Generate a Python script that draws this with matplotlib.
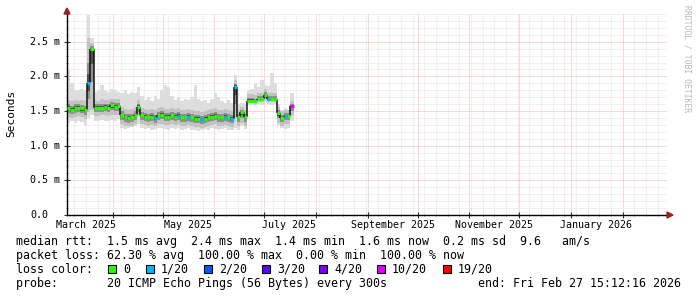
import numpy as np
import pandas as pd
import matplotlib
matplotlib.use('Agg')
import matplotlib.pyplot as plt
import matplotlib.dates as mdates
from matplotlib.ticker import MultipleLocator
from matplotlib.collections import LineCollection
from matplotlib.patches import Rectangle, Polygon
from matplotlib.transforms import blended_transform_factory

W, H = 697, 297
MONO = 'DejaVu Sans Mono'

# graph window: last 360 days
end_time = pd.Timestamp('2026-02-27 15:12:16')
start_time = end_time - pd.Timedelta(days=360)

# one consolidated value every 2 days from the start of the window (ms)
median_ms = [1.55, 1.52, 1.55, 1.55, 1.54, 1.51, 1.90, 2.40,
             1.55, 1.55, 1.55, 1.56, 1.55, 1.58, 1.56, 1.57,
             1.44, 1.41, 1.40, 1.41, 1.44, 1.56, 1.44, 1.42,
             1.41, 1.42, 1.40, 1.44, 1.45, 1.42, 1.42, 1.44,
             1.42, 1.43, 1.41, 1.41, 1.42, 1.41, 1.39, 1.39,
             1.38, 1.39, 1.41, 1.42, 1.43, 1.41, 1.41, 1.42,
             1.41, 1.39, 1.85, 1.41, 1.48, 1.41, 1.65, 1.65,
             1.64, 1.67, 1.67, 1.73, 1.67, 1.67, 1.67, 1.47,
             1.40, 1.43, 1.43, 1.57]
# index into loss_colors for every step
loss_step = [0, 0, 0, 0, 0, 0, 1, 0,
             0, 0, 0, 0, 0, 0, 0, 0,
             0, 0, 0, 0, 0, 0, 0, 0,
             0, 0, 1, 0, 0, 0, 0, 0,
             0, 1, 0, 0, 1, 0, 0, 0,
             1, 0, 0, 0, 0, 0, 0, 1,
             0, 1, 1, 0, 0, 0, 0, 0,
             0, 0, 0, 0, 1, 0, 0, 0,
             0, 1, 0, 5]
# smoke: spread of the 20 pings
rtt_max = [2.09, 1.90, 1.80, 1.80, 1.82, 1.80, 2.89, 2.55,
           1.78, 1.80, 1.88, 1.80, 1.78, 1.82, 1.80, 1.78,
           1.76, 1.80, 1.74, 1.78, 1.76, 1.85, 1.72, 1.66,
           1.70, 1.64, 1.72, 1.68, 1.80, 1.88, 1.84, 1.72,
           1.66, 1.70, 1.64, 1.68, 1.66, 1.70, 1.88, 1.68,
           1.64, 1.66, 1.62, 1.68, 1.76, 1.70, 1.64, 1.62,
           1.66, 1.62, 2.02, 1.60, 1.62, 1.60, 1.80, 1.82,
           1.90, 1.84, 1.95, 1.88, 1.86, 2.05, 1.90, 1.60,
           1.52, 1.55, 1.52, 1.76]
rtt_hi = [1.66, 1.64, 1.66, 1.65, 1.66, 1.64, 2.55, 2.48,
          1.66, 1.65, 1.67, 1.66, 1.66, 1.68, 1.67, 1.67,
          1.56, 1.53, 1.52, 1.53, 1.56, 1.66, 1.55, 1.53,
          1.52, 1.53, 1.51, 1.55, 1.56, 1.53, 1.53, 1.55,
          1.53, 1.54, 1.52, 1.52, 1.53, 1.52, 1.50, 1.50,
          1.49, 1.50, 1.52, 1.53, 1.54, 1.52, 1.52, 1.53,
          1.52, 1.50, 1.95, 1.52, 1.56, 1.52, 1.74, 1.74,
          1.73, 1.76, 1.76, 1.82, 1.76, 1.76, 1.76, 1.56,
          1.50, 1.52, 1.52, 1.64]
rtt_lo = [1.42, 1.40, 1.42, 1.43, 1.41, 1.39, 1.48, 1.52,
          1.43, 1.43, 1.44, 1.44, 1.43, 1.45, 1.44, 1.45,
          1.31, 1.29, 1.28, 1.29, 1.32, 1.43, 1.31, 1.30,
          1.29, 1.30, 1.28, 1.31, 1.32, 1.30, 1.30, 1.31,
          1.30, 1.31, 1.29, 1.29, 1.30, 1.29, 1.27, 1.27,
          1.26, 1.27, 1.29, 1.30, 1.31, 1.29, 1.29, 1.30,
          1.29, 1.27, 1.40, 1.29, 1.33, 1.29, 1.61, 1.61,
          1.60, 1.63, 1.63, 1.66, 1.63, 1.63, 1.63, 1.33,
          1.29, 1.31, 1.31, 1.45]
rtt_min = [1.33, 1.35, 1.33, 1.36, 1.34, 1.30, 1.40, 1.45,
           1.36, 1.35, 1.37, 1.36, 1.35, 1.37, 1.36, 1.38,
           1.26, 1.24, 1.25, 1.27, 1.28, 1.32, 1.26, 1.24,
           1.25, 1.23, 1.24, 1.26, 1.25, 1.24, 1.22, 1.25,
           1.24, 1.26, 1.23, 1.24, 1.25, 1.22, 1.23, 1.21,
           1.22, 1.24, 1.23, 1.25, 1.24, 1.22, 1.24, 1.25,
           1.23, 1.22, 1.25, 1.22, 1.28, 1.24, 1.58, 1.59,
           1.57, 1.60, 1.59, 1.61, 1.60, 1.59, 1.60, 1.30,
           1.25, 1.24, 1.26, 1.35]

loss_labels = ['0', '1/20', '2/20', '3/20', '4/20', '10/20', '19/20']
loss_colors = ['#26ff00', '#00b8ff', '#0059ff', '#5e00ff', '#7e00ff', '#dd00ff', '#ff0000']
y_ticks = [0.0, 0.5, 1.0, 1.5, 2.0, 2.5]
y_labels = ['0.0', '0.5 m', '1.0 m', '1.5 m', '2.0 m', '2.5 m']
month_labels = ['March 2025', 'May 2025', 'July 2025', 'September 2025',
                'November 2025', 'January 2026']
month_label_at = ['2025-03-16', '2025-05-16', '2025-07-16', '2025-09-16',
                  '2025-11-16', '2026-01-16']

rtt_line = 'median rtt:  1.5 ms avg  2.4 ms max  1.4 ms min  1.6 ms now  0.2 ms sd  9.6   am/s'
loss_line = 'packet loss: 62.30 % avg  100.00 % max  0.00 % min  100.00 % now'
probe_line = 'probe:       20 ICMP Echo Pings (56 Bytes) every 300s'
end_line = 'end: Fri Feb 27 15:12:16 2026'


def fx(x):
    return x / W


def fy(y):
    return 1 - y / H


plt.rcParams['lines.scale_dashes'] = False

fig = plt.figure(figsize=(W / 100, H / 100), dpi=100, facecolor='white')
ax = fig.add_axes([fx(67), fy(215), 600 / W, 201 / H])

edges = mdates.date2num(pd.date_range(start_time, periods=len(median_ms) + 1, freq='2D'))
med = np.array(median_ms)
hi = np.array(rtt_hi)
lo = np.array(rtt_lo)


def step_fill(a, b, color):
    a = np.append(a, a[-1])
    b = np.append(b, b[-1])
    ax.fill_between(edges, a, b, step='post', color=color, lw=0, zorder=2)


# smoke layers, darker towards the median
step_fill(np.array(rtt_min), np.array(rtt_max), '#dddddd')
step_fill(lo, hi, '#c2c2c2')
step_fill(med - 0.55 * (med - lo), med + 0.45 * (hi - med), '#8e8e8e')
step_fill(med - 0.25 * (med - lo), med + 0.2 * (hi - med), '#505050')

# vertical joins of the median line
vsegs = [[(edges[i], med[i - 1]), (edges[i], med[i])] for i in range(1, len(med))]
ax.add_collection(LineCollection(vsegs, colors='#111111', linewidths=1.1, zorder=3))
# median coloured by loss
hsegs = [[(edges[i], med[i]), (edges[i + 1], med[i])] for i in range(len(med))]
ax.add_collection(LineCollection(hsegs, colors=[loss_colors[k] for k in loss_step],
                                 linewidths=2.2, capstyle='butt', zorder=4))

ax.set_xlim(mdates.date2num(start_time), mdates.date2num(end_time))
ax.set_ylim(0, 2.9)

ax.xaxis.set_major_locator(mdates.MonthLocator())
ax.xaxis.set_minor_locator(mdates.WeekdayLocator(byweekday=mdates.SU))
ax.yaxis.set_major_locator(MultipleLocator(0.5))
ax.yaxis.set_minor_locator(MultipleLocator(0.1))
ax.set_xticklabels([])
ax.set_yticklabels([])
ax.tick_params(which='major', direction='inout', length=4, width=0.8, color='#333333')
ax.tick_params(which='minor', direction='inout', length=2, width=0.6, color='#777777')
ax.set_axisbelow(True)
ax.grid(which='minor', color='#e2e2e2', lw=0.72, dashes=(0.72, 0.72))
ax.grid(which='major', color='#f2b4b4', lw=0.72, dashes=(0.72, 0.72))
for s in ['top', 'right']:
    ax.spines[s].set_visible(False)
for s in ['left', 'bottom']:
    ax.spines[s].set_color('#000000')
    ax.spines[s].set_linewidth(1.0)

# axis labels
ytr = blended_transform_factory(fig.transFigure, ax.transData)
for v, lab in zip(y_ticks, y_labels):
    ax.text(fx(30), v, lab, transform=ytr, fontsize=7.2, family=MONO,
            ha='left', va='center', color='#000000')
xtr = blended_transform_factory(ax.transData, fig.transFigure)
for d, lab in zip(month_label_at, month_labels):
    ax.text(mdates.date2num(pd.Timestamp(d)), fy(228), lab, transform=xtr, fontsize=7.2,
            family=MONO, ha='center', va='baseline', color='#000000')

fig.text(fx(11), fy(113), 'Seconds', rotation=90, fontsize=8.0, family=MONO,
         ha='center', va='center')
fig.text(fx(687), fy(59), 'RRDTOOL / TOBI OETIKER', rotation=270, fontsize=5.8,
         family=MONO, ha='center', va='center', color='#b8b8b8')

# axis arrows
fig.add_artist(Polygon([(fx(64), fy(14)), (fx(70), fy(14)), (fx(67), fy(8))],
                       closed=True, color='#992222', transform=fig.transFigure))
fig.add_artist(Polygon([(fx(667), fy(212)), (fx(667), fy(218)), (fx(673), fy(215))],
                       closed=True, color='#992222', transform=fig.transFigure))

# legend block
fs = 8.4
fig.text(fx(16), fy(245.5), rtt_line, fontsize=fs, family=MONO, va='baseline')
fig.text(fx(16), fy(259.3), loss_line, fontsize=fs, family=MONO, va='baseline')
fig.text(fx(16), fy(273), 'loss color:', fontsize=fs, family=MONO, va='baseline')
box_x = [108, 146, 204, 262, 319, 377, 443]
for bx, lab, col in zip(box_x, loss_labels, loss_colors):
    fig.add_artist(Rectangle((fx(bx), fy(273)), 8 / W, 8 / H, facecolor=col,
                             edgecolor='black', lw=0.8, transform=fig.transFigure))
    fig.text(fx(bx + 15), fy(273), lab, fontsize=fs, family=MONO, va='baseline')
fig.text(fx(16), fy(287), probe_line, fontsize=fs, family=MONO, va='baseline')
fig.text(fx(681), fy(287), end_line, fontsize=fs, family=MONO, va='baseline', ha='right')

fig.savefig('out.png', dpi=100, facecolor='white')
